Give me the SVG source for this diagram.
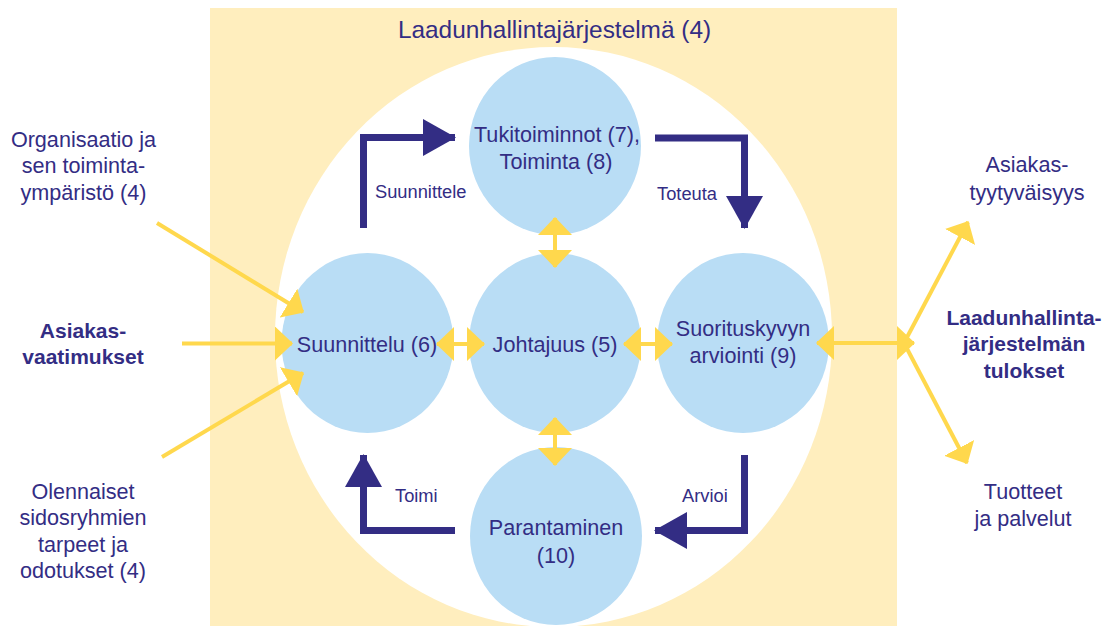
<svg xmlns="http://www.w3.org/2000/svg" width="1111" height="626" viewBox="0 0 1111 626">
<style>
  text { font-family: "Liberation Sans", Arial, sans-serif; fill: #332d84; }
  .lbl { font-size: 21.6px; text-anchor: middle; }
  .bold { font-weight: bold; font-size: 21px; }
  .small { font-size: 18.3px; }
  .title { font-size: 24.4px; text-anchor: middle; }
  .node { fill: #b9ddf5; }
  .ylw { stroke: #ffd84d; stroke-width: 4; fill: none; }
  .navy { stroke: #332d84; stroke-width: 7; fill: none; stroke-linejoin: miter; }
</style>
<defs>
  <marker id="yh" markerUnits="userSpaceOnUse" viewBox="0 0 18 34" markerWidth="18" markerHeight="34" refX="17" refY="17" orient="auto-start-reverse">
    <path d="M0,0 L18,17 L0,34 Z" fill="#ffd84d"/>
  </marker>
  <marker id="nh" markerUnits="userSpaceOnUse" viewBox="0 0 33 37" markerWidth="33" markerHeight="37" refX="32" refY="18.5" orient="auto">
    <path d="M0,0 L33,18.5 L0,37 Z" fill="#332d84"/>
  </marker>
</defs>

<g id="background">
  <rect x="210" y="8" width="687" height="618" fill="#ffeebe"/>
  <ellipse cx="553.5" cy="337" rx="278.5" ry="290" fill="#ffffff"/>
  <text class="title" x="554.5" y="38">Laadunhallintajärjestelmä (4)</text>
</g>

<g id="node-tuki">
  <ellipse class="node" cx="555" cy="146" rx="86" ry="89"/>
  <text class="lbl" x="557" y="142">Tukitoiminnot (7),</text>
  <text class="lbl" x="556" y="169">Toiminta (8)</text>
</g>
<g id="node-suunnittelu">
  <ellipse class="node" cx="367.5" cy="343" rx="86" ry="90"/>
  <text class="lbl" x="367" y="352">Suunnittelu (6)</text>
</g>
<g id="node-johtajuus">
  <ellipse class="node" cx="555" cy="343" rx="86" ry="90"/>
  <text class="lbl" x="555" y="352">Johtajuus (5)</text>
</g>
<g id="node-suoritus">
  <ellipse class="node" cx="743" cy="343" rx="86" ry="90"/>
  <text class="lbl" x="743" y="336">Suorituskyvyn</text>
  <text class="lbl" x="743" y="363">arviointi (9)</text>
</g>
<g id="node-parantaminen">
  <ellipse class="node" cx="556" cy="536" rx="86" ry="89"/>
  <text class="lbl" x="556" y="535">Parantaminen</text>
  <text class="lbl" x="556" y="563">(10)</text>
</g>

<g id="node-organisaatio">
  <text class="lbl" x="83.5" y="147">Organisaatio ja</text>
  <text class="lbl" x="83.5" y="173">sen toiminta-</text>
  <text class="lbl" x="83.5" y="200">ympäristö (4)</text>
</g>
<g id="node-asiakasvaatimukset">
  <text class="lbl bold" x="83" y="338">Asiakas-</text>
  <text class="lbl bold" x="83" y="364">vaatimukset</text>
</g>
<g id="node-sidosryhmat">
  <text class="lbl" x="83" y="499">Olennaiset</text>
  <text class="lbl" x="83" y="525">sidosryhmien</text>
  <text class="lbl" x="83" y="552">tarpeet ja</text>
  <text class="lbl" x="83" y="578">odotukset (4)</text>
</g>
<g id="node-tyytyvaisyys">
  <text class="lbl" x="1027" y="172">Asiakas-</text>
  <text class="lbl" x="1027" y="200">tyytyväisyys</text>
</g>
<g id="node-tulokset">
  <text class="lbl bold" x="1024" y="325">Laadunhallinta-</text>
  <text class="lbl bold" x="1024" y="351">järjestelmän</text>
  <text class="lbl bold" x="1024" y="378">tulokset</text>
</g>
<g id="node-tuotteet">
  <text class="lbl" x="1023" y="499">Tuotteet</text>
  <text class="lbl" x="1023" y="526">ja palvelut</text>
</g>

<g id="connectors">
  <line class="ylw" x1="555" y1="218" x2="555" y2="267" marker-start="url(#yh)" marker-end="url(#yh)"/>
  <line class="ylw" x1="555" y1="418" x2="555" y2="465" marker-start="url(#yh)" marker-end="url(#yh)"/>
  <line class="ylw" x1="437" y1="344" x2="484" y2="344" marker-start="url(#yh)" marker-end="url(#yh)"/>
  <line class="ylw" x1="624" y1="344" x2="672" y2="344" marker-start="url(#yh)" marker-end="url(#yh)"/>
  <line class="ylw" x1="817" y1="343" x2="914" y2="343" marker-start="url(#yh)" marker-end="url(#yh)"/>
  <line class="ylw" x1="904" y1="343" x2="968" y2="222" marker-end="url(#yh)"/>
  <line class="ylw" x1="904" y1="343" x2="967" y2="463" marker-end="url(#yh)"/>
  <line class="ylw" x1="157" y1="223" x2="303" y2="312" marker-end="url(#yh)"/>
  <line class="ylw" x1="182" y1="343.5" x2="292" y2="343.5" marker-end="url(#yh)"/>
  <line class="ylw" x1="162" y1="457" x2="303" y2="373" marker-end="url(#yh)"/>

  <polyline class="navy" points="363.5,228 363.5,137.5 455,137.5" marker-end="url(#nh)"/>
  <polyline class="navy" points="655,138 744.5,138 744.5,228" marker-end="url(#nh)"/>
  <polyline class="navy" points="744.5,455 744.5,530.5 655,530.5" marker-end="url(#nh)"/>
  <polyline class="navy" points="455,530.5 363.5,530.5 363.5,455" marker-end="url(#nh)"/>
  <text class="small" x="375" y="198">Suunnittele</text>
  <text class="small" x="657" y="200">Toteuta</text>
  <text class="small" x="395" y="502">Toimi</text>
  <text class="small" x="682" y="502">Arvioi</text>
</g>
</svg>
